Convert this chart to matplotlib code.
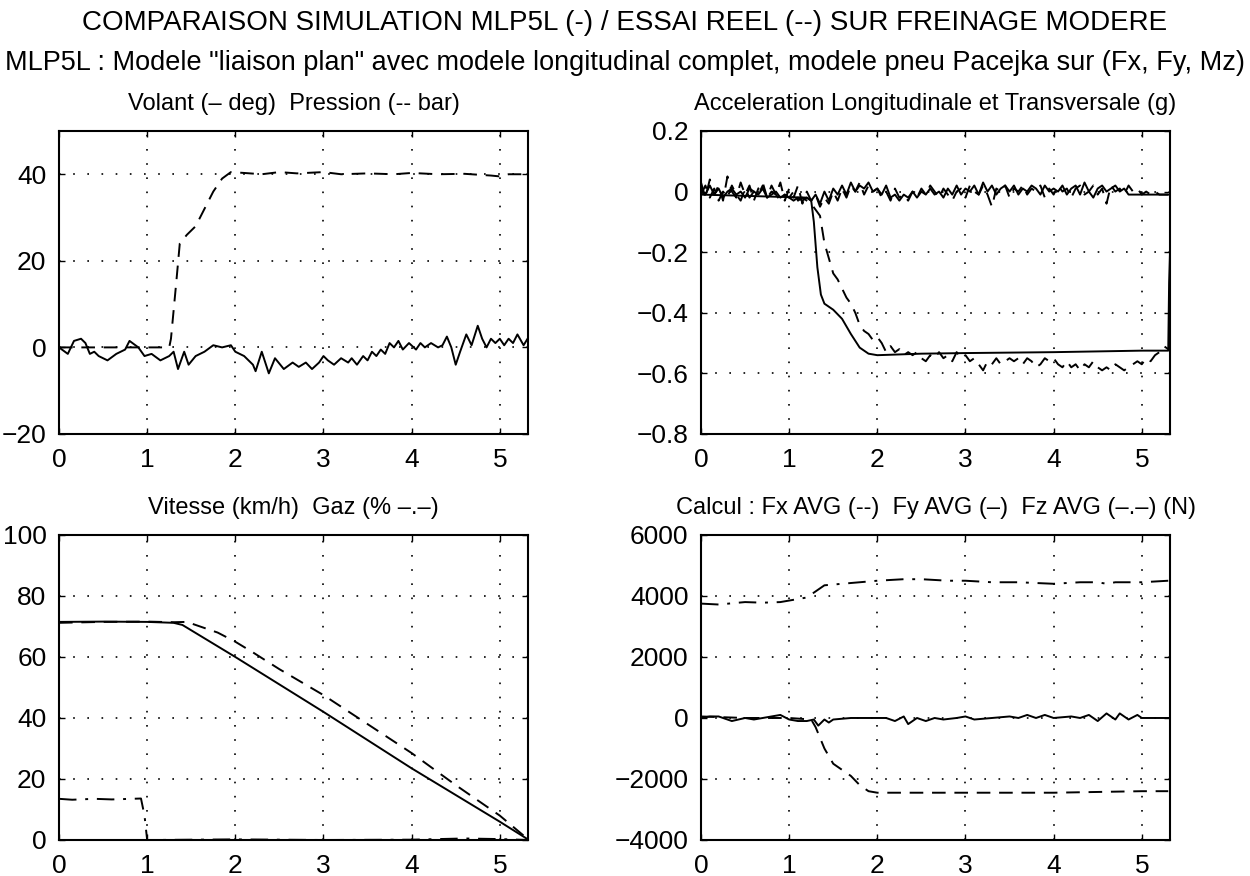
import numpy as np
import matplotlib
matplotlib.use('Agg')
import matplotlib.pyplot as plt

plt.rcParams['font.family'] = ['Liberation Sans', 'DejaVu Sans']

#############################################
## Data
#############################################
# Volant (deg), solid
t_volant = [0, 0.1, 0.17, 0.25, 0.3, 0.35, 0.4, 0.45, 0.55, 0.65, 0.75, 0.8, 0.9, 0.97,
            1.05, 1.15, 1.25, 1.3, 1.35, 1.42, 1.47, 1.55, 1.65, 1.75, 1.85, 1.95, 2.0,
            2.1, 2.2, 2.23, 2.3, 2.38, 2.45, 2.55, 2.65, 2.72, 2.8, 2.87, 2.95, 3.0, 3.05,
            3.12, 3.2, 3.28, 3.32, 3.38, 3.45, 3.5, 3.55, 3.6, 3.65, 3.7, 3.75, 3.8, 3.85,
            3.9, 3.97, 4.05, 4.1, 4.15, 4.22, 4.3, 4.35, 4.4, 4.45, 4.5, 4.55, 4.62, 4.68,
            4.75, 4.8, 4.85, 4.9, 4.95, 5.0, 5.05, 5.1, 5.15, 5.2, 5.27, 5.33]
volant = [0, -1.5, 1.5, 2, 1, -1.5, -1, -2, -3, -1.5, -0.5, 1.5, 0, -2,
          -1.5, -3, -2, -1, -5, -1, -4, -2, -1, 0.5, 0, 0.5, -1,
          -2, -4, -5.5, -1, -6, -2.5, -5, -3.5, -4.5, -3.5, -5, -3.5, -2, -3,
          -4, -2.5, -3.5, -2.5, -4, -2, -3, -1, -2, -0.5, -1.5, 1, 0, 1.5,
          -0.5, 1, -0.5, 1, 0, 1, 0, 0.5, 2.5, 0, -4, -1, 3, 0.5,
          5, 2, 0, 2, 1, 2, 0.5, 2, 1, 3, 0.5, 2.5]

# Pression (bar), dashed
t_pression = [0, 1.25, 1.27, 1.33, 1.37, 1.45, 1.55, 1.65, 1.75, 1.85, 1.95, 2.1, 2.3,
              2.5, 2.7, 3.0, 3.2, 3.5, 3.8, 4.0, 4.3, 4.6, 4.9, 5.0, 5.1, 5.33]
pression = [0, 0, 2, 15, 24, 26, 28, 32, 36, 39, 40.5, 40.3, 40,
            40.5, 40.2, 40.5, 40, 40.2, 40, 40.3, 40, 40.1, 39.7, 39.5, 40, 40]

# Accelerations (g), sampled every 0.05 s for the measured signals
dt_acc = 0.05
acc_long_real = [-0.01, 0.02, -0.02, 0.01, -0.03, 0.00, -0.02, 0.02, -0.01, -0.03, 0.01, -0.02,
                 0.00, -0.01, 0.02, -0.02, 0.00, -0.01, -0.03, -0.01, -0.02, 0.00, -0.03, -0.02,
                 -0.03, -0.04, -0.06, -0.08, -0.17, -0.22, -0.27, -0.29, -0.32, -0.35, -0.37,
                 -0.40, -0.44, -0.46, -0.47, -0.49, -0.48, -0.50, -0.53, -0.51, -0.53, -0.52,
                 -0.54, -0.53, -0.54, -0.53, -0.55, -0.56, -0.54, -0.55, -0.53, -0.55, -0.54,
                 -0.56, -0.53, -0.55, -0.54, -0.56, -0.55, -0.57, -0.59, -0.56, -0.57, -0.55,
                 -0.57, -0.56, -0.55, -0.56, -0.55, -0.57, -0.55, -0.56, -0.58, -0.57, -0.55,
                 -0.56, -0.55, -0.57, -0.58, -0.56, -0.58, -0.57, -0.59, -0.57, -0.58, -0.56,
                 -0.58, -0.59, -0.58, -0.59, -0.57, -0.58, -0.59, -0.58, -0.57, -0.56, -0.57,
                 -0.55, -0.56, -0.54, -0.53, -0.51, -0.52]
acc_trans_real = [0.03, -0.02, 0.04, -0.01, 0.02, -0.03, 0.05, 0.00, -0.02, 0.03, -0.01, 0.02,
                  -0.03, 0.01, 0.03, -0.02, 0.02, -0.01, 0.03, -0.03, 0.01, -0.02, 0.02, -0.04,
                  0.00, -0.03, -0.01, -0.05, -0.02, -0.04, 0.00, -0.03, 0.01, -0.02, 0.02, 0.00,
                  0.03, -0.01, 0.02, 0.00, 0.01, -0.02, 0.00, -0.03, 0.01, -0.02, -0.01, -0.03,
                  0.00, -0.02, 0.01, -0.01, 0.02, 0.00, -0.02, 0.01, -0.01, -0.03, 0.00, 0.01,
                  -0.02, 0.02, 0.00, -0.01, 0.02, -0.01, -0.05, 0.01, 0.00, 0.02, -0.02, 0.01,
                  0.00, 0.02, -0.01, 0.01, 0.00, 0.02, -0.02, 0.01, -0.01, 0.02, 0.00, 0.01,
                  -0.02, 0.01, 0.02, -0.01, 0.00, 0.02, -0.01, 0.01, -0.04, 0.02, 0.00, 0.01,
                  -0.01, 0.02, 0.00, 0.01, -0.01, 0.00, -0.01, 0.00, -0.01, -0.01, -0.01]
acc_trans_sim = [0.00, -0.01, 0.02, -0.01, 0.01, -0.02, 0.00, 0.01, -0.01, 0.00, -0.02, 0.01,
                 0.00, -0.01, 0.01, -0.02, -0.01, 0.00, -0.02, -0.01, -0.02, -0.03, -0.02, -0.03,
                 -0.02, -0.03, -0.01, -0.04, 0.00, -0.03, 0.01, -0.01, 0.02, -0.01, 0.03, 0.00,
                 0.02, 0.01, 0.03, 0.00, 0.01, -0.01, 0.02, -0.02, -0.01, -0.03, -0.01, -0.02,
                 0.00, -0.02, 0.00, -0.01, 0.01, -0.01, 0.00, -0.02, 0.01, -0.01, 0.02, -0.01,
                 0.01, 0.00, 0.02, -0.01, 0.03, 0.00, 0.02, -0.01, 0.01, 0.02, 0.00, 0.02,
                 -0.01, 0.01, 0.00, 0.02, 0.01, -0.01, 0.02, 0.00, 0.01, 0.00, 0.02, -0.01,
                 0.01, 0.02, -0.01, 0.03, 0.00, -0.02, 0.01, 0.02, 0.00, 0.01, 0.02, 0.00,
                 0.01, -0.01, -0.01, -0.01, -0.01, -0.01, -0.01, -0.01, -0.01, -0.01, -0.01]
t_acc_sim = [0, 1.2, 1.25, 1.28, 1.32, 1.36, 1.4, 1.5, 1.6, 1.7, 1.8, 1.9, 2.0, 2.5,
             3.0, 4.0, 5.0, 5.3, 5.31, 5.32]
acc_long_sim = [-0.01, -0.02, -0.03, -0.10, -0.25, -0.34, -0.37, -0.39, -0.42, -0.47, -0.515,
                -0.535, -0.54, -0.535, -0.533, -0.53, -0.525, -0.525, -0.3, -0.2]

# Vitesse (km/h) and Gaz (%)
t_vit_sim = [0, 0.5, 1.0, 1.3, 1.4, 1.6, 1.8, 2.0, 3.0, 4.0, 5.0, 5.33]
vit_sim = [71.5, 71.6, 71.5, 71.2, 70.5, 67, 63.5, 60, 42, 23.5, 6, 0]
t_vit_real = [0, 0.5, 1.0, 1.3, 1.45, 1.6, 1.8, 2.0, 2.2, 2.5, 3.0, 3.5, 4.0, 4.5, 5.0, 5.33]
vit_real = [71.2, 71.5, 71.6, 71.4, 71.5, 70, 68, 65, 61.5, 56, 47.5, 38, 28.5, 18, 8, 0]
t_gaz = [0, 0.15, 0.4, 0.6, 0.93, 0.97, 1.0, 1.05, 2.0, 3.0, 4.0, 4.6, 5.0, 5.33]
gaz = [13.5, 13.2, 13.5, 13.3, 13.6, 8, 0, 0, 0.2, 0, 0.1, 0.5, 0.3, 0]

# Forces (N)
t_fz = [0, 0.2, 0.5, 0.7, 0.9, 1.0, 1.2, 1.3, 1.4, 1.6, 1.8, 2.0, 2.3, 2.5, 2.8, 3.0,
        3.3, 3.6, 4.0, 4.3, 4.5, 4.6, 4.7, 5.0, 5.3]
fz = [3750, 3720, 3800, 3780, 3800, 3850, 3950, 4150, 4350, 4400, 4450, 4500, 4550, 4550,
      4500, 4500, 4450, 4450, 4400, 4450, 4450, 4400, 4450, 4450, 4500]
t_fy = [0, 0.1, 0.2, 0.35, 0.5, 0.6, 0.8, 0.9, 1.0, 1.1, 1.2, 1.28, 1.33, 1.4, 1.45, 1.5,
        1.7, 1.9, 2.1, 2.2, 2.3, 2.35, 2.45, 2.55, 2.65, 2.75, 2.9, 3.0, 3.1, 3.3, 3.5,
        3.6, 3.7, 3.8, 3.9, 4.0, 4.2, 4.3, 4.4, 4.5, 4.6, 4.7, 4.75, 4.85, 4.95, 5.0, 5.3]
fy = [0, 50, 50, -100, 0, -50, 50, 100, -50, -100, -100, -50, -250, -50, -150, -50,
      0, 0, 0, -100, 50, -200, 0, -100, 0, -50, 0, 50, -50, 0, 50,
      0, 100, 0, 100, 0, 50, 0, 100, -100, 150, -50, 150, -50, 100, 0, 0]
t_fx = [0, 0.5, 1.0, 1.25, 1.3, 1.4, 1.5, 1.6, 1.7, 1.8, 1.9, 2.0, 2.5, 3.0, 4.0, 5.0, 5.3]
fx = [50, 0, 0, -50, -300, -1000, -1500, -1700, -1900, -2200, -2400, -2450, -2450, -2450,
      -2450, -2400, -2400]

#############################################
## Figure
#############################################
fig = plt.figure(figsize=(12.5, 8.76), dpi=100)

fig.text(0.5, 0.974, 'COMPARAISON SIMULATION MLP5L (-) / ESSAI REEL (--) SUR FREINAGE MODERE',
         ha='center', va='center', fontsize=20)
fig.text(0.5, 0.928, 'MLP5L : Modele "liaison plan" avec modele longitudinal complet, '
         'modele pneu Pacejka sur (Fx, Fy, Mz)', ha='center', va='center', fontsize=19.5)

lw = 1.4
dash = (0, (7, 4.5))
dashdot = (0, (9, 4.5, 1.5, 4.5))

def style(ax, title, ylim, yticks):
    ax.set_xlim(0, 5.32)
    ax.set_ylim(*ylim)
    ax.set_xticks([0, 1, 2, 3, 4, 5])
    ax.set_yticks(yticks)
    ax.grid(True, color='black', linestyle=(0, (1, 7.5)), linewidth=1.2)
    ax.tick_params(direction='in', top=True, right=True, length=4, width=1,
                   labelsize=19)
    ax.tick_params(axis='x', pad=10)
    ax.tick_params(axis='y', pad=9)
    for s in ax.spines.values():
        s.set_linewidth(1.5)
    ax.set_title(title, fontsize=17, pad=15)

w, h1, h2 = 0.3752, 0.3459, 0.3482
ax1 = fig.add_axes([0.0472, 0.5046, w, h1])
ax2 = fig.add_axes([0.5608, 0.5046, w, h1])
ax3 = fig.add_axes([0.0472, 0.0411, w, h2])
ax4 = fig.add_axes([0.5608, 0.0411, w, h2])

# Volant / Pression
ax1.plot(t_volant, volant, color='black', lw=lw)
ax1.plot(t_pression, pression, color='black', lw=lw, linestyle=dash)
style(ax1, 'Volant (– deg)  Pression (-- bar)', (-20, 50), [-20, 0, 20, 40])

# Accelerations
t_real = np.arange(len(acc_long_real)) * dt_acc
t_trs = np.arange(len(acc_trans_real)) * dt_acc
t_trsim = np.arange(len(acc_trans_sim)) * dt_acc
ax2.plot(t_trs, acc_trans_real, color='black', lw=lw, linestyle=dash)
ax2.plot(t_real, acc_long_real, color='black', lw=lw, linestyle=dash)
ax2.plot(t_trsim, acc_trans_sim, color='black', lw=lw)
ax2.plot(t_acc_sim, acc_long_sim, color='black', lw=lw)
style(ax2, 'Acceleration Longitudinale et Transversale (g)', (-0.8, 0.2),
      [-0.8, -0.6, -0.4, -0.2, 0, 0.2])
ax2.set_yticklabels(['−0.8', '−0.6', '−0.4', '−0.2', '0', '0.2'])

# Vitesse / Gaz
ax3.plot(t_vit_sim, vit_sim, color='black', lw=lw)
ax3.plot(t_vit_real, vit_real, color='black', lw=lw, linestyle=dash)
ax3.plot(t_gaz, gaz, color='black', lw=lw, linestyle=dashdot)
style(ax3, 'Vitesse (km/h)  Gaz (% –.–)', (0, 100), [0, 20, 40, 60, 80, 100])

# Forces
ax4.plot(t_fz, fz, color='black', lw=lw, linestyle=dashdot)
ax4.plot(t_fy, fy, color='black', lw=lw)
ax4.plot(t_fx, fx, color='black', lw=lw, linestyle=dash)
style(ax4, 'Calcul : Fx AVG (--)  Fy AVG (–)  Fz AVG (–.–) (N)', (-4000, 6000),
      [-4000, -2000, 0, 2000, 4000, 6000])

plt.savefig('out.png', dpi=100)
